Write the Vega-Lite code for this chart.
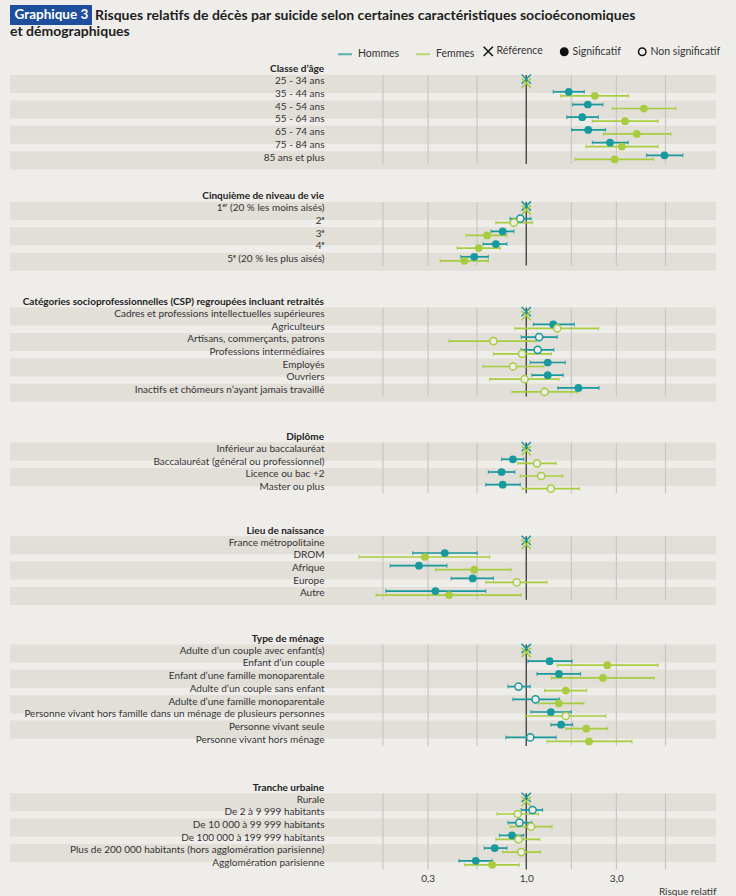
{
"$schema": "https://vega.github.io/schema/vega-lite/v6.json",
"background": "#efedea",
"padding": {"left": 10, "top": 5, "right": 20, "bottom": 0},
"title": {"text": ["\u200b\u00a0\u00a0\u00a0\u00a0\u00a0\u00a0\u00a0\u00a0\u00a0\u00a0\u00a0\u00a0\u00a0\u00a0\u00a0\u00a0\u00a0\u00a0\u00a0\u00a0\u00a0\u00a0\u00a0\u00a0\u00a0Risques relatifs de décès par suicide selon certaines caractéristiques socioéconomiques", "et démographiques"], "anchor": "start", "align": "left", "dx": 0, "fontSize": 14, "fontWeight": "bold", "color": "#1e1e1e", "lineHeight": 16, "offset": -34},
"config": {
 "font": "Lato",
 "view": {"stroke": null},
 "title": {"anchor": "end", "dx": -392, "fontSize": 10, "fontWeight": "bold", "color": "#222", "offset": -3},
 "axisY": {"domain": false, "ticks": false, "tickSize": 0, "labelPadding": 0, "labelFontSize": 10, "labelColor": "#333", "labelLimit": 400, "grid": false},
 "legend": {"labelFontSize": 10.5, "labelColor": "#333", "padding": 0}
},
"datasets": {
 "grid": [{"v": 0.174}, {"v": 0.302}, {"v": 0.549}, {"v": 1.734}, {"v": 3.005}, {"v": 5.47}],
 "d": [
  {"s":"age","cat":"25 - 34 ans","sexe":"Hommes","type":"Référence","rr":1},
  {"s":"age","cat":"25 - 34 ans","sexe":"Femmes","type":"Référence","rr":1},
  {"s":"age","cat":"35 - 44 ans","sexe":"Hommes","type":"Significatif","rr":1.68,"lo":1.39,"hi":2.03},
  {"s":"age","cat":"35 - 44 ans","sexe":"Femmes","type":"Significatif","rr":2.31,"lo":1.52,"hi":3.49},
  {"s":"age","cat":"45 - 54 ans","sexe":"Hommes","type":"Significatif","rr":2.12,"lo":1.76,"hi":2.55},
  {"s":"age","cat":"45 - 54 ans","sexe":"Femmes","type":"Significatif","rr":4.2,"lo":2.86,"hi":6.21},
  {"s":"age","cat":"55 - 64 ans","sexe":"Hommes","type":"Significatif","rr":1.98,"lo":1.64,"hi":2.41},
  {"s":"age","cat":"55 - 64 ans","sexe":"Femmes","type":"Significatif","rr":3.34,"lo":2.24,"hi":5.0},
  {"s":"age","cat":"65 - 74 ans","sexe":"Hommes","type":"Significatif","rr":2.13,"lo":1.74,"hi":2.63},
  {"s":"age","cat":"65 - 74 ans","sexe":"Femmes","type":"Significatif","rr":3.85,"lo":2.57,"hi":5.84},
  {"s":"age","cat":"75 - 84 ans","sexe":"Hommes","type":"Significatif","rr":2.78,"lo":2.24,"hi":3.47},
  {"s":"age","cat":"75 - 84 ans","sexe":"Femmes","type":"Significatif","rr":3.21,"lo":2.07,"hi":5.0},
  {"s":"age","cat":"85 ans et plus","sexe":"Hommes","type":"Significatif","rr":5.4,"lo":4.34,"hi":6.76},
  {"s":"age","cat":"85 ans et plus","sexe":"Femmes","type":"Significatif","rr":2.94,"lo":1.81,"hi":4.74},

  {"s":"q","cat":"1ᵉʳ (20 % les moins aisés)","sexe":"Hommes","type":"Référence","rr":1},
  {"s":"q","cat":"1ᵉʳ (20 % les moins aisés)","sexe":"Femmes","type":"Référence","rr":1},
  {"s":"q","cat":"2ᵉ","sexe":"Hommes","type":"Non significatif","rr":0.93,"lo":0.82,"hi":1.06},
  {"s":"q","cat":"2ᵉ","sexe":"Femmes","type":"Non significatif","rr":0.86,"lo":0.69,"hi":1.08},
  {"s":"q","cat":"3ᵉ","sexe":"Hommes","type":"Significatif","rr":0.75,"lo":0.65,"hi":0.86},
  {"s":"q","cat":"3ᵉ","sexe":"Femmes","type":"Significatif","rr":0.62,"lo":0.48,"hi":0.79},
  {"s":"q","cat":"4ᵉ","sexe":"Hommes","type":"Significatif","rr":0.69,"lo":0.59,"hi":0.79},
  {"s":"q","cat":"4ᵉ","sexe":"Femmes","type":"Significatif","rr":0.56,"lo":0.43,"hi":0.73},
  {"s":"q","cat":"5ᵉ (20 % les plus aisés)","sexe":"Hommes","type":"Significatif","rr":0.53,"lo":0.45,"hi":0.63},
  {"s":"q","cat":"5ᵉ (20 % les plus aisés)","sexe":"Femmes","type":"Significatif","rr":0.47,"lo":0.35,"hi":0.63},

  {"s":"csp","cat":"Cadres et professions intellectuelles supérieures","sexe":"Hommes","type":"Référence","rr":1},
  {"s":"csp","cat":"Cadres et professions intellectuelles supérieures","sexe":"Femmes","type":"Référence","rr":1},
  {"s":"csp","cat":"Agriculteurs","sexe":"Hommes","type":"Significatif","rr":1.39,"lo":1.09,"hi":1.8},
  {"s":"csp","cat":"Agriculteurs","sexe":"Femmes","type":"Non significatif","rr":1.46,"lo":0.87,"hi":2.42},
  {"s":"csp","cat":"Artisans, commerçants, patrons","sexe":"Hommes","type":"Non significatif","rr":1.17,"lo":0.94,"hi":1.46},
  {"s":"csp","cat":"Artisans, commerçants, patrons","sexe":"Femmes","type":"Non significatif","rr":0.67,"lo":0.39,"hi":1.13},
  {"s":"csp","cat":"Professions intermédiaires","sexe":"Hommes","type":"Non significatif","rr":1.15,"lo":0.94,"hi":1.4},
  {"s":"csp","cat":"Professions intermédiaires","sexe":"Femmes","type":"Non significatif","rr":0.95,"lo":0.67,"hi":1.36},
  {"s":"csp","cat":"Employés","sexe":"Hommes","type":"Significatif","rr":1.3,"lo":1.05,"hi":1.61},
  {"s":"csp","cat":"Employés","sexe":"Femmes","type":"Non significatif","rr":0.85,"lo":0.59,"hi":1.24},
  {"s":"csp","cat":"Ouvriers","sexe":"Hommes","type":"Significatif","rr":1.3,"lo":1.07,"hi":1.57},
  {"s":"csp","cat":"Ouvriers","sexe":"Femmes","type":"Non significatif","rr":0.98,"lo":0.64,"hi":1.49},
  {"s":"csp","cat":"Inactifs et chômeurs n’ayant jamais travaillé","sexe":"Hommes","type":"Significatif","rr":1.89,"lo":1.47,"hi":2.43},
  {"s":"csp","cat":"Inactifs et chômeurs n’ayant jamais travaillé","sexe":"Femmes","type":"Non significatif","rr":1.25,"lo":0.84,"hi":1.86},

  {"s":"dip","cat":"Inférieur au baccalauréat","sexe":"Hommes","type":"Référence","rr":1},
  {"s":"dip","cat":"Inférieur au baccalauréat","sexe":"Femmes","type":"Référence","rr":1},
  {"s":"dip","cat":"Baccalauréat (général ou professionnel)","sexe":"Hommes","type":"Significatif","rr":0.85,"lo":0.74,"hi":0.97},
  {"s":"dip","cat":"Baccalauréat (général ou professionnel)","sexe":"Femmes","type":"Non significatif","rr":1.14,"lo":0.9,"hi":1.44},
  {"s":"dip","cat":"Licence ou bac +2","sexe":"Hommes","type":"Significatif","rr":0.74,"lo":0.63,"hi":0.87},
  {"s":"dip","cat":"Licence ou bac +2","sexe":"Femmes","type":"Non significatif","rr":1.2,"lo":0.93,"hi":1.56},
  {"s":"dip","cat":"Master ou plus","sexe":"Hommes","type":"Significatif","rr":0.75,"lo":0.61,"hi":0.93},
  {"s":"dip","cat":"Master ou plus","sexe":"Femmes","type":"Non significatif","rr":1.35,"lo":0.95,"hi":1.91},

  {"s":"lieu","cat":"France métropolitaine","sexe":"Hommes","type":"Référence","rr":1},
  {"s":"lieu","cat":"France métropolitaine","sexe":"Femmes","type":"Référence","rr":1},
  {"s":"lieu","cat":"DROM","sexe":"Hommes","type":"Significatif","rr":0.37,"lo":0.25,"hi":0.55},
  {"s":"lieu","cat":"DROM","sexe":"Femmes","type":"Significatif","rr":0.29,"lo":0.13,"hi":0.64},
  {"s":"lieu","cat":"Afrique","sexe":"Hommes","type":"Significatif","rr":0.27,"lo":0.19,"hi":0.38},
  {"s":"lieu","cat":"Afrique","sexe":"Femmes","type":"Significatif","rr":0.53,"lo":0.33,"hi":0.83},
  {"s":"lieu","cat":"Europe","sexe":"Hommes","type":"Significatif","rr":0.52,"lo":0.4,"hi":0.67},
  {"s":"lieu","cat":"Europe","sexe":"Femmes","type":"Non significatif","rr":0.89,"lo":0.61,"hi":1.29},
  {"s":"lieu","cat":"Autre","sexe":"Hommes","type":"Significatif","rr":0.33,"lo":0.18,"hi":0.61},
  {"s":"lieu","cat":"Autre","sexe":"Femmes","type":"Significatif","rr":0.39,"lo":0.16,"hi":0.94},

  {"s":"men","cat":"Adulte d’un couple avec enfant(s)","sexe":"Hommes","type":"Référence","rr":1},
  {"s":"men","cat":"Adulte d’un couple avec enfant(s)","sexe":"Femmes","type":"Référence","rr":1},
  {"s":"men","cat":"Enfant d’un couple","sexe":"Hommes","type":"Significatif","rr":1.33,"lo":1.02,"hi":1.75},
  {"s":"men","cat":"Enfant d’un couple","sexe":"Femmes","type":"Significatif","rr":2.69,"lo":1.46,"hi":5.0},
  {"s":"men","cat":"Enfant d’une famille monoparentale","sexe":"Hommes","type":"Significatif","rr":1.49,"lo":1.14,"hi":1.94},
  {"s":"men","cat":"Enfant d’une famille monoparentale","sexe":"Femmes","type":"Significatif","rr":2.55,"lo":1.36,"hi":4.76},
  {"s":"men","cat":"Adulte d’un couple sans enfant","sexe":"Hommes","type":"Non significatif","rr":0.91,"lo":0.8,"hi":1.05},
  {"s":"men","cat":"Adulte d’un couple sans enfant","sexe":"Femmes","type":"Significatif","rr":1.62,"lo":1.25,"hi":2.09},
  {"s":"men","cat":"Adulte d’une famille monoparentale","sexe":"Hommes","type":"Non significatif","rr":1.12,"lo":0.85,"hi":1.5},
  {"s":"men","cat":"Adulte d’une famille monoparentale","sexe":"Femmes","type":"Significatif","rr":1.49,"lo":1.16,"hi":2.02},
  {"s":"men","cat":"Personne vivant hors famille dans un ménage de plusieurs personnes","sexe":"Hommes","type":"Significatif","rr":1.35,"lo":1.06,"hi":1.73},
  {"s":"men","cat":"Personne vivant hors famille dans un ménage de plusieurs personnes","sexe":"Femmes","type":"Non significatif","rr":1.62,"lo":0.99,"hi":2.64},
  {"s":"men","cat":"Personne vivant seule","sexe":"Hommes","type":"Significatif","rr":1.53,"lo":1.35,"hi":1.76},
  {"s":"men","cat":"Personne vivant seule","sexe":"Femmes","type":"Significatif","rr":2.08,"lo":1.62,"hi":2.7},
  {"s":"men","cat":"Personne vivant hors ménage","sexe":"Hommes","type":"Non significatif","rr":1.05,"lo":0.78,"hi":1.44},
  {"s":"men","cat":"Personne vivant hors ménage","sexe":"Femmes","type":"Significatif","rr":2.15,"lo":1.29,"hi":3.63},

  {"s":"urb","cat":"Rurale","sexe":"Hommes","type":"Référence","rr":1},
  {"s":"urb","cat":"Rurale","sexe":"Femmes","type":"Référence","rr":1},
  {"s":"urb","cat":"De 2 à 9 999 habitants","sexe":"Hommes","type":"Non significatif","rr":1.08,"lo":0.94,"hi":1.22},
  {"s":"urb","cat":"De 2 à 9 999 habitants","sexe":"Femmes","type":"Non significatif","rr":0.9,"lo":0.7,"hi":1.16},
  {"s":"urb","cat":"De 10 000 à 99 999 habitants","sexe":"Hommes","type":"Non significatif","rr":0.92,"lo":0.8,"hi":1.07},
  {"s":"urb","cat":"De 10 000 à 99 999 habitants","sexe":"Femmes","type":"Non significatif","rr":1.06,"lo":0.82,"hi":1.37},
  {"s":"urb","cat":"De 100 000 à 199 999 habitants","sexe":"Hommes","type":"Significatif","rr":0.84,"lo":0.72,"hi":0.97},
  {"s":"urb","cat":"De 100 000 à 199 999 habitants","sexe":"Femmes","type":"Non significatif","rr":0.91,"lo":0.69,"hi":1.18},
  {"s":"urb","cat":"Plus de 200 000 habitants (hors agglomération parisienne)","sexe":"Hommes","type":"Significatif","rr":0.68,"lo":0.6,"hi":0.79},
  {"s":"urb","cat":"Plus de 200 000 habitants (hors agglomération parisienne)","sexe":"Femmes","type":"Non significatif","rr":0.94,"lo":0.75,"hi":1.19},
  {"s":"urb","cat":"Agglomération parisienne","sexe":"Hommes","type":"Significatif","rr":0.54,"lo":0.44,"hi":0.66},
  {"s":"urb","cat":"Agglomération parisienne","sexe":"Femmes","type":"Significatif","rr":0.66,"lo":0.47,"hi":0.92}
 ]
},
"data": {"name": "d"},
"spacing": 20.9,
"vconcat": [
 {"title": "Classe d’âge", "width": 706, "height": 88.9,
  "layer": [
   {"transform": [{"filter": "datum.s==='age' && datum.sexe==='Hommes'"}, {"window": [{"op": "row_number", "as": "rn"}]}, {"filter": "datum.rn % 2 === 1"}],
    "mark": {"type": "rect", "color": "#e2ded8"},
    "encoding": {"y": {"field": "cat", "type": "nominal", "scale": {"type": "band", "domain": ["25 - 34 ans","35 - 44 ans","45 - 54 ans","55 - 64 ans","65 - 74 ans","75 - 84 ans","85 ans et plus"], "paddingInner": 0, "paddingOuter": 0}, "axis": {"title": null, "offset": -314, "zindex": 1}},
     "x": {"datum": 0.001836, "type": "quantitative", "scale": {"type": "log", "domain": [0.001836, 10.13], "nice": false}, "axis": null}, "x2": {"datum": 10.13}}},
   {"data": {"name": "grid"}, "mark": {"type": "rule", "color": "#c9c7c3", "strokeWidth": 1.2},
    "encoding": {"x": {"field": "v", "type": "quantitative", "scale": {"type": "log", "domain": [0.001836, 10.13], "nice": false}, "axis": null}}},
   {"data": {"values": [{}]}, "mark": {"type": "rule", "color": "#3c3c3c", "strokeWidth": 1.3},
    "encoding": {"x": {"datum": 1, "type": "quantitative", "scale": {"type": "log", "domain": [0.001836, 10.13], "nice": false}, "axis": null},
     "strokeDash": {"datum": "Graphique 3", "type": "nominal", "legend": {"title": null, "orient": "none", "legendX": 0, "legendY": -70, "fillColor": "#1d4f9c", "padding": 3, "symbolSize": 0, "symbolOpacity": 0, "symbolStrokeWidth": 0, "labelOffset": -12, "labelFontSize": 13.5, "labelFontWeight": "bold", "labelColor": "#ffffff"}}}},
   {"transform": [{"filter": "datum.s==='age' && datum.lo != null"}], "mark": {"type": "rule", "strokeWidth": 1.7},
    "encoding": {"y": {"field": "cat", "type": "nominal", "scale": {"type": "band", "domain": ["25 - 34 ans","35 - 44 ans","45 - 54 ans","55 - 64 ans","65 - 74 ans","75 - 84 ans","85 ans et plus"], "paddingInner": 0, "paddingOuter": 0}, "axis": {"title": null, "offset": -314, "zindex": 1}},
     "yOffset": {"field": "sexe", "type": "nominal", "scale": {"type": "point", "domain": ["Hommes","Femmes"], "range": [4.1, 8.1], "padding": 0}},
     "x": {"field": "lo", "type": "quantitative", "scale": {"type": "log", "domain": [0.001836, 10.13], "nice": false}, "axis": null}, "x2": {"field": "hi"},
     "color": {"field": "sexe", "type": "nominal", "scale": {"domain": ["Hommes","Femmes"], "range": ["#17999d","#a8cc3f"]}, "legend": {"title": null, "orient": "none", "legendX": 327, "legendY": -29, "direction": "horizontal", "symbolType": "stroke", "symbolStrokeWidth": 2, "symbolSize": 196, "labelOffset": 5, "columnPadding": 12}}}},
   {"transform": [{"filter": "datum.s==='age' && datum.lo != null"}, {"fold": ["lo","hi"], "as": ["k","ev"]}], "mark": {"type": "tick", "orient": "vertical", "thickness": 1.2, "size": 4},
    "encoding": {"y": {"field": "cat", "type": "nominal", "scale": {"type": "band", "domain": ["25 - 34 ans","35 - 44 ans","45 - 54 ans","55 - 64 ans","65 - 74 ans","75 - 84 ans","85 ans et plus"], "paddingInner": 0, "paddingOuter": 0}, "axis": {"title": null, "offset": -314, "zindex": 1}},
     "yOffset": {"field": "sexe", "type": "nominal", "scale": {"type": "point", "domain": ["Hommes","Femmes"], "range": [4.1, 8.1], "padding": 0}},
     "x": {"field": "ev", "type": "quantitative", "scale": {"type": "log", "domain": [0.001836, 10.13], "nice": false}, "axis": null},
     "color": {"field": "sexe", "type": "nominal", "scale": {"domain": ["Hommes","Femmes"], "range": ["#17999d","#a8cc3f"]}}}},
   {"transform": [{"filter": "datum.s==='age' && datum.type==='Référence'"}], "mark": {"type": "point", "shape": "M-1.25,-1.25L1.25,1.25M-1.25,1.25L1.25,-1.25", "size": 55, "strokeWidth": 1.5, "filled": false, "opacity": 1},
    "encoding": {"y": {"field": "cat", "type": "nominal", "scale": {"type": "band", "domain": ["25 - 34 ans","35 - 44 ans","45 - 54 ans","55 - 64 ans","65 - 74 ans","75 - 84 ans","85 ans et plus"], "paddingInner": 0, "paddingOuter": 0}, "axis": {"title": null, "offset": -314, "zindex": 1}},
     "yOffset": {"field": "sexe", "type": "nominal", "scale": {"type": "point", "domain": ["Hommes","Femmes"], "range": [4.1, 8.1], "padding": 0}},
     "x": {"field": "rr", "type": "quantitative", "scale": {"type": "log", "domain": [0.001836, 10.13], "nice": false}, "axis": null},
     "color": {"field": "sexe", "type": "nominal", "scale": {"domain": ["Hommes","Femmes"], "range": ["#17999d","#a8cc3f"]}}}},
   {"transform": [{"filter": "datum.s==='age' && datum.type==='Significatif'"}], "mark": {"type": "point", "shape": "circle", "size": 60, "filled": true, "opacity": 1},
    "encoding": {"y": {"field": "cat", "type": "nominal", "scale": {"type": "band", "domain": ["25 - 34 ans","35 - 44 ans","45 - 54 ans","55 - 64 ans","65 - 74 ans","75 - 84 ans","85 ans et plus"], "paddingInner": 0, "paddingOuter": 0}, "axis": {"title": null, "offset": -314, "zindex": 1}},
     "yOffset": {"field": "sexe", "type": "nominal", "scale": {"type": "point", "domain": ["Hommes","Femmes"], "range": [4.1, 8.1], "padding": 0}},
     "x": {"field": "rr", "type": "quantitative", "scale": {"type": "log", "domain": [0.001836, 10.13], "nice": false}, "axis": null},
     "color": {"field": "sexe", "type": "nominal", "scale": {"domain": ["Hommes","Femmes"], "range": ["#17999d","#a8cc3f"]}}}},
   {"data": {"values": [{"type": "Référence"}, {"type": "Significatif"}, {"type": "Non significatif"}]},
    "mark": {"type": "point", "strokeWidth": 1.5, "opacity": 0},
    "encoding": {"x": {"datum": 1, "type": "quantitative", "scale": {"type": "log", "domain": [0.001836, 10.13], "nice": false}, "axis": null},
     "shape": {"field": "type", "type": "nominal", "scale": {"domain": ["Référence","Significatif","Non significatif"], "range": ["M-1.25,-1.25L1.25,1.25M-1.25,1.25L1.25,-1.25","circle","circle"]}, "legend": {"title": null, "orient": "none", "legendX": 473, "legendY": -29, "direction": "horizontal", "labelOffset": 3, "columnPadding": 14, "symbolSize": 55, "symbolOpacity": 1, "symbolStrokeWidth": 1.5}},
     "fill": {"field": "type", "type": "nominal", "scale": {"domain": ["Référence","Significatif","Non significatif"], "range": ["transparent","#111111","transparent"]}, "legend": {"title": null, "orient": "none", "legendX": 473, "legendY": -29, "direction": "horizontal", "labelOffset": 3, "columnPadding": 14, "symbolSize": 55, "symbolOpacity": 1, "symbolStrokeWidth": 1.5}},
     "stroke": {"field": "type", "type": "nominal", "scale": {"domain": ["Référence","Significatif","Non significatif"], "range": ["#111111","#111111","#111111"]}, "legend": {"title": null, "orient": "none", "legendX": 473, "legendY": -29, "direction": "horizontal", "labelOffset": 3, "columnPadding": 14, "symbolSize": 55, "symbolOpacity": 1, "symbolStrokeWidth": 1.5}}}}
  ]},
 {"spacing": 25.7, "vconcat": [
  {"title": "Cinquième de niveau de vie", "width": 706, "height": 63.5,
   "layer": [
    {"transform": [{"filter": "datum.s==='q' && datum.sexe==='Hommes'"}, {"window": [{"op": "row_number", "as": "rn"}]}, {"filter": "datum.rn % 2 === 1"}],
     "mark": {"type": "rect", "color": "#e2ded8"},
     "encoding": {"y": {"field": "cat", "type": "nominal", "scale": {"type": "band", "domain": ["1ᵉʳ (20 % les moins aisés)","2ᵉ","3ᵉ","4ᵉ","5ᵉ (20 % les plus aisés)"], "paddingInner": 0, "paddingOuter": 0}, "axis": {"title": null, "offset": -314, "zindex": 1}},
      "x": {"datum": 0.001836, "type": "quantitative", "scale": {"type": "log", "domain": [0.001836, 10.13], "nice": false}, "axis": null}, "x2": {"datum": 10.13}}},
    {"data": {"name": "grid"}, "mark": {"type": "rule", "color": "#c9c7c3", "strokeWidth": 1.2},
     "encoding": {"x": {"field": "v", "type": "quantitative", "scale": {"type": "log", "domain": [0.001836, 10.13], "nice": false}, "axis": null}}},
    {"data": {"values": [{}]}, "mark": {"type": "rule", "color": "#3c3c3c", "strokeWidth": 1.3},
     "encoding": {"x": {"datum": 1, "type": "quantitative", "scale": {"type": "log", "domain": [0.001836, 10.13], "nice": false}, "axis": null}}},
    {"transform": [{"filter": "datum.s==='q' && datum.lo != null"}], "mark": {"type": "rule", "strokeWidth": 1.7},
     "encoding": {"y": {"field": "cat", "type": "nominal", "scale": {"type": "band", "domain": ["1ᵉʳ (20 % les moins aisés)","2ᵉ","3ᵉ","4ᵉ","5ᵉ (20 % les plus aisés)"], "paddingInner": 0, "paddingOuter": 0}, "axis": {"title": null, "offset": -314, "zindex": 1}},
      "yOffset": {"field": "sexe", "type": "nominal", "scale": {"type": "point", "domain": ["Hommes","Femmes"], "range": [4.1, 8.1], "padding": 0}},
      "x": {"field": "lo", "type": "quantitative", "scale": {"type": "log", "domain": [0.001836, 10.13], "nice": false}, "axis": null}, "x2": {"field": "hi"},
      "color": {"field": "sexe", "type": "nominal", "scale": {"domain": ["Hommes","Femmes"], "range": ["#17999d","#a8cc3f"]}}}},
    {"transform": [{"filter": "datum.s==='q' && datum.lo != null"}, {"fold": ["lo","hi"], "as": ["k","ev"]}], "mark": {"type": "tick", "orient": "vertical", "thickness": 1.2, "size": 4},
     "encoding": {"y": {"field": "cat", "type": "nominal", "scale": {"type": "band", "domain": ["1ᵉʳ (20 % les moins aisés)","2ᵉ","3ᵉ","4ᵉ","5ᵉ (20 % les plus aisés)"], "paddingInner": 0, "paddingOuter": 0}, "axis": {"title": null, "offset": -314, "zindex": 1}},
      "yOffset": {"field": "sexe", "type": "nominal", "scale": {"type": "point", "domain": ["Hommes","Femmes"], "range": [4.1, 8.1], "padding": 0}},
      "x": {"field": "ev", "type": "quantitative", "scale": {"type": "log", "domain": [0.001836, 10.13], "nice": false}, "axis": null},
      "color": {"field": "sexe", "type": "nominal", "scale": {"domain": ["Hommes","Femmes"], "range": ["#17999d","#a8cc3f"]}}}},
    {"transform": [{"filter": "datum.s==='q' && datum.type==='Référence'"}], "mark": {"type": "point", "shape": "M-1.25,-1.25L1.25,1.25M-1.25,1.25L1.25,-1.25", "size": 55, "strokeWidth": 1.5, "filled": false, "opacity": 1},
     "encoding": {"y": {"field": "cat", "type": "nominal", "scale": {"type": "band", "domain": ["1ᵉʳ (20 % les moins aisés)","2ᵉ","3ᵉ","4ᵉ","5ᵉ (20 % les plus aisés)"], "paddingInner": 0, "paddingOuter": 0}, "axis": {"title": null, "offset": -314, "zindex": 1}},
      "yOffset": {"field": "sexe", "type": "nominal", "scale": {"type": "point", "domain": ["Hommes","Femmes"], "range": [4.1, 8.1], "padding": 0}},
      "x": {"field": "rr", "type": "quantitative", "scale": {"type": "log", "domain": [0.001836, 10.13], "nice": false}, "axis": null},
      "color": {"field": "sexe", "type": "nominal", "scale": {"domain": ["Hommes","Femmes"], "range": ["#17999d","#a8cc3f"]}}}},
    {"transform": [{"filter": "datum.s==='q' && datum.type==='Significatif'"}], "mark": {"type": "point", "shape": "circle", "size": 60, "filled": true, "opacity": 1},
     "encoding": {"y": {"field": "cat", "type": "nominal", "scale": {"type": "band", "domain": ["1ᵉʳ (20 % les moins aisés)","2ᵉ","3ᵉ","4ᵉ","5ᵉ (20 % les plus aisés)"], "paddingInner": 0, "paddingOuter": 0}, "axis": {"title": null, "offset": -314, "zindex": 1}},
      "yOffset": {"field": "sexe", "type": "nominal", "scale": {"type": "point", "domain": ["Hommes","Femmes"], "range": [4.1, 8.1], "padding": 0}},
      "x": {"field": "rr", "type": "quantitative", "scale": {"type": "log", "domain": [0.001836, 10.13], "nice": false}, "axis": null},
      "color": {"field": "sexe", "type": "nominal", "scale": {"domain": ["Hommes","Femmes"], "range": ["#17999d","#a8cc3f"]}}}},
    {"transform": [{"filter": "datum.s==='q' && datum.type==='Non significatif'"}], "mark": {"type": "point", "shape": "circle", "size": 52, "filled": false, "fill": "#efedea", "strokeWidth": 1.5, "opacity": 1},
     "encoding": {"y": {"field": "cat", "type": "nominal", "scale": {"type": "band", "domain": ["1ᵉʳ (20 % les moins aisés)","2ᵉ","3ᵉ","4ᵉ","5ᵉ (20 % les plus aisés)"], "paddingInner": 0, "paddingOuter": 0}, "axis": {"title": null, "offset": -314, "zindex": 1}},
      "yOffset": {"field": "sexe", "type": "nominal", "scale": {"type": "point", "domain": ["Hommes","Femmes"], "range": [4.1, 8.1], "padding": 0}},
      "x": {"field": "rr", "type": "quantitative", "scale": {"type": "log", "domain": [0.001836, 10.13], "nice": false}, "axis": null},
      "color": {"field": "sexe", "type": "nominal", "scale": {"domain": ["Hommes","Femmes"], "range": ["#17999d","#a8cc3f"]}}}}
   ]},
  {"spacing": 28.9, "vconcat": [
   {"title": "Catégories socioprofessionnelles (CSP) regroupées incluant retraités", "width": 706, "height": 88.9,
    "layer": [
     {"transform": [{"filter": "datum.s==='csp' && datum.sexe==='Hommes'"}, {"window": [{"op": "row_number", "as": "rn"}]}, {"filter": "datum.rn % 2 === 1"}],
      "mark": {"type": "rect", "color": "#e2ded8"},
      "encoding": {"y": {"field": "cat", "type": "nominal", "scale": {"type": "band", "domain": ["Cadres et professions intellectuelles supérieures","Agriculteurs","Artisans, commerçants, patrons","Professions intermédiaires","Employés","Ouvriers","Inactifs et chômeurs n’ayant jamais travaillé"], "paddingInner": 0, "paddingOuter": 0}, "axis": {"title": null, "offset": -314, "zindex": 1}},
       "x": {"datum": 0.001836, "type": "quantitative", "scale": {"type": "log", "domain": [0.001836, 10.13], "nice": false}, "axis": null}, "x2": {"datum": 10.13}}},
     {"data": {"name": "grid"}, "mark": {"type": "rule", "color": "#c9c7c3", "strokeWidth": 1.2},
      "encoding": {"x": {"field": "v", "type": "quantitative", "scale": {"type": "log", "domain": [0.001836, 10.13], "nice": false}, "axis": null}}},
     {"data": {"values": [{}]}, "mark": {"type": "rule", "color": "#3c3c3c", "strokeWidth": 1.3},
      "encoding": {"x": {"datum": 1, "type": "quantitative", "scale": {"type": "log", "domain": [0.001836, 10.13], "nice": false}, "axis": null}}},
     {"transform": [{"filter": "datum.s==='csp' && datum.lo != null"}], "mark": {"type": "rule", "strokeWidth": 1.7},
      "encoding": {"y": {"field": "cat", "type": "nominal", "scale": {"type": "band", "domain": ["Cadres et professions intellectuelles supérieures","Agriculteurs","Artisans, commerçants, patrons","Professions intermédiaires","Employés","Ouvriers","Inactifs et chômeurs n’ayant jamais travaillé"], "paddingInner": 0, "paddingOuter": 0}, "axis": {"title": null, "offset": -314, "zindex": 1}},
       "yOffset": {"field": "sexe", "type": "nominal", "scale": {"type": "point", "domain": ["Hommes","Femmes"], "range": [4.1, 8.1], "padding": 0}},
       "x": {"field": "lo", "type": "quantitative", "scale": {"type": "log", "domain": [0.001836, 10.13], "nice": false}, "axis": null}, "x2": {"field": "hi"},
       "color": {"field": "sexe", "type": "nominal", "scale": {"domain": ["Hommes","Femmes"], "range": ["#17999d","#a8cc3f"]}}}},
     {"transform": [{"filter": "datum.s==='csp' && datum.lo != null"}, {"fold": ["lo","hi"], "as": ["k","ev"]}], "mark": {"type": "tick", "orient": "vertical", "thickness": 1.2, "size": 4},
      "encoding": {"y": {"field": "cat", "type": "nominal", "scale": {"type": "band", "domain": ["Cadres et professions intellectuelles supérieures","Agriculteurs","Artisans, commerçants, patrons","Professions intermédiaires","Employés","Ouvriers","Inactifs et chômeurs n’ayant jamais travaillé"], "paddingInner": 0, "paddingOuter": 0}, "axis": {"title": null, "offset": -314, "zindex": 1}},
       "yOffset": {"field": "sexe", "type": "nominal", "scale": {"type": "point", "domain": ["Hommes","Femmes"], "range": [4.1, 8.1], "padding": 0}},
       "x": {"field": "ev", "type": "quantitative", "scale": {"type": "log", "domain": [0.001836, 10.13], "nice": false}, "axis": null},
       "color": {"field": "sexe", "type": "nominal", "scale": {"domain": ["Hommes","Femmes"], "range": ["#17999d","#a8cc3f"]}}}},
     {"transform": [{"filter": "datum.s==='csp' && datum.type==='Référence'"}], "mark": {"type": "point", "shape": "M-1.25,-1.25L1.25,1.25M-1.25,1.25L1.25,-1.25", "size": 55, "strokeWidth": 1.5, "filled": false, "opacity": 1},
      "encoding": {"y": {"field": "cat", "type": "nominal", "scale": {"type": "band", "domain": ["Cadres et professions intellectuelles supérieures","Agriculteurs","Artisans, commerçants, patrons","Professions intermédiaires","Employés","Ouvriers","Inactifs et chômeurs n’ayant jamais travaillé"], "paddingInner": 0, "paddingOuter": 0}, "axis": {"title": null, "offset": -314, "zindex": 1}},
       "yOffset": {"field": "sexe", "type": "nominal", "scale": {"type": "point", "domain": ["Hommes","Femmes"], "range": [4.1, 8.1], "padding": 0}},
       "x": {"field": "rr", "type": "quantitative", "scale": {"type": "log", "domain": [0.001836, 10.13], "nice": false}, "axis": null},
       "color": {"field": "sexe", "type": "nominal", "scale": {"domain": ["Hommes","Femmes"], "range": ["#17999d","#a8cc3f"]}}}},
     {"transform": [{"filter": "datum.s==='csp' && datum.type==='Significatif'"}], "mark": {"type": "point", "shape": "circle", "size": 60, "filled": true, "opacity": 1},
      "encoding": {"y": {"field": "cat", "type": "nominal", "scale": {"type": "band", "domain": ["Cadres et professions intellectuelles supérieures","Agriculteurs","Artisans, commerçants, patrons","Professions intermédiaires","Employés","Ouvriers","Inactifs et chômeurs n’ayant jamais travaillé"], "paddingInner": 0, "paddingOuter": 0}, "axis": {"title": null, "offset": -314, "zindex": 1}},
       "yOffset": {"field": "sexe", "type": "nominal", "scale": {"type": "point", "domain": ["Hommes","Femmes"], "range": [4.1, 8.1], "padding": 0}},
       "x": {"field": "rr", "type": "quantitative", "scale": {"type": "log", "domain": [0.001836, 10.13], "nice": false}, "axis": null},
       "color": {"field": "sexe", "type": "nominal", "scale": {"domain": ["Hommes","Femmes"], "range": ["#17999d","#a8cc3f"]}}}},
     {"transform": [{"filter": "datum.s==='csp' && datum.type==='Non significatif'"}], "mark": {"type": "point", "shape": "circle", "size": 52, "filled": false, "fill": "#efedea", "strokeWidth": 1.5, "opacity": 1},
      "encoding": {"y": {"field": "cat", "type": "nominal", "scale": {"type": "band", "domain": ["Cadres et professions intellectuelles supérieures","Agriculteurs","Artisans, commerçants, patrons","Professions intermédiaires","Employés","Ouvriers","Inactifs et chômeurs n’ayant jamais travaillé"], "paddingInner": 0, "paddingOuter": 0}, "axis": {"title": null, "offset": -314, "zindex": 1}},
       "yOffset": {"field": "sexe", "type": "nominal", "scale": {"type": "point", "domain": ["Hommes","Femmes"], "range": [4.1, 8.1], "padding": 0}},
       "x": {"field": "rr", "type": "quantitative", "scale": {"type": "log", "domain": [0.001836, 10.13], "nice": false}, "axis": null},
       "color": {"field": "sexe", "type": "nominal", "scale": {"domain": ["Hommes","Femmes"], "range": ["#17999d","#a8cc3f"]}}}}
    ]},
   {"spacing": 29.7, "vconcat": [
    {"title": "Diplôme", "width": 706, "height": 50.8,
     "layer": [
      {"transform": [{"filter": "datum.s==='dip' && datum.sexe==='Hommes'"}, {"window": [{"op": "row_number", "as": "rn"}]}, {"filter": "datum.rn % 2 === 1"}],
       "mark": {"type": "rect", "color": "#e2ded8"},
       "encoding": {"y": {"field": "cat", "type": "nominal", "scale": {"type": "band", "domain": ["Inférieur au baccalauréat","Baccalauréat (général ou professionnel)","Licence ou bac +2","Master ou plus"], "paddingInner": 0, "paddingOuter": 0}, "axis": {"title": null, "offset": -314, "zindex": 1}},
        "x": {"datum": 0.001836, "type": "quantitative", "scale": {"type": "log", "domain": [0.001836, 10.13], "nice": false}, "axis": null}, "x2": {"datum": 10.13}}},
      {"data": {"name": "grid"}, "mark": {"type": "rule", "color": "#c9c7c3", "strokeWidth": 1.2},
       "encoding": {"x": {"field": "v", "type": "quantitative", "scale": {"type": "log", "domain": [0.001836, 10.13], "nice": false}, "axis": null}}},
      {"data": {"values": [{}]}, "mark": {"type": "rule", "color": "#3c3c3c", "strokeWidth": 1.3},
       "encoding": {"x": {"datum": 1, "type": "quantitative", "scale": {"type": "log", "domain": [0.001836, 10.13], "nice": false}, "axis": null}}},
      {"transform": [{"filter": "datum.s==='dip' && datum.lo != null"}], "mark": {"type": "rule", "strokeWidth": 1.7},
       "encoding": {"y": {"field": "cat", "type": "nominal", "scale": {"type": "band", "domain": ["Inférieur au baccalauréat","Baccalauréat (général ou professionnel)","Licence ou bac +2","Master ou plus"], "paddingInner": 0, "paddingOuter": 0}, "axis": {"title": null, "offset": -314, "zindex": 1}},
        "yOffset": {"field": "sexe", "type": "nominal", "scale": {"type": "point", "domain": ["Hommes","Femmes"], "range": [4.1, 8.1], "padding": 0}},
        "x": {"field": "lo", "type": "quantitative", "scale": {"type": "log", "domain": [0.001836, 10.13], "nice": false}, "axis": null}, "x2": {"field": "hi"},
        "color": {"field": "sexe", "type": "nominal", "scale": {"domain": ["Hommes","Femmes"], "range": ["#17999d","#a8cc3f"]}}}},
      {"transform": [{"filter": "datum.s==='dip' && datum.lo != null"}, {"fold": ["lo","hi"], "as": ["k","ev"]}], "mark": {"type": "tick", "orient": "vertical", "thickness": 1.2, "size": 4},
       "encoding": {"y": {"field": "cat", "type": "nominal", "scale": {"type": "band", "domain": ["Inférieur au baccalauréat","Baccalauréat (général ou professionnel)","Licence ou bac +2","Master ou plus"], "paddingInner": 0, "paddingOuter": 0}, "axis": {"title": null, "offset": -314, "zindex": 1}},
        "yOffset": {"field": "sexe", "type": "nominal", "scale": {"type": "point", "domain": ["Hommes","Femmes"], "range": [4.1, 8.1], "padding": 0}},
        "x": {"field": "ev", "type": "quantitative", "scale": {"type": "log", "domain": [0.001836, 10.13], "nice": false}, "axis": null},
        "color": {"field": "sexe", "type": "nominal", "scale": {"domain": ["Hommes","Femmes"], "range": ["#17999d","#a8cc3f"]}}}},
      {"transform": [{"filter": "datum.s==='dip' && datum.type==='Référence'"}], "mark": {"type": "point", "shape": "M-1.25,-1.25L1.25,1.25M-1.25,1.25L1.25,-1.25", "size": 55, "strokeWidth": 1.5, "filled": false, "opacity": 1},
       "encoding": {"y": {"field": "cat", "type": "nominal", "scale": {"type": "band", "domain": ["Inférieur au baccalauréat","Baccalauréat (général ou professionnel)","Licence ou bac +2","Master ou plus"], "paddingInner": 0, "paddingOuter": 0}, "axis": {"title": null, "offset": -314, "zindex": 1}},
        "yOffset": {"field": "sexe", "type": "nominal", "scale": {"type": "point", "domain": ["Hommes","Femmes"], "range": [4.1, 8.1], "padding": 0}},
        "x": {"field": "rr", "type": "quantitative", "scale": {"type": "log", "domain": [0.001836, 10.13], "nice": false}, "axis": null},
        "color": {"field": "sexe", "type": "nominal", "scale": {"domain": ["Hommes","Femmes"], "range": ["#17999d","#a8cc3f"]}}}},
      {"transform": [{"filter": "datum.s==='dip' && datum.type==='Significatif'"}], "mark": {"type": "point", "shape": "circle", "size": 60, "filled": true, "opacity": 1},
       "encoding": {"y": {"field": "cat", "type": "nominal", "scale": {"type": "band", "domain": ["Inférieur au baccalauréat","Baccalauréat (général ou professionnel)","Licence ou bac +2","Master ou plus"], "paddingInner": 0, "paddingOuter": 0}, "axis": {"title": null, "offset": -314, "zindex": 1}},
        "yOffset": {"field": "sexe", "type": "nominal", "scale": {"type": "point", "domain": ["Hommes","Femmes"], "range": [4.1, 8.1], "padding": 0}},
        "x": {"field": "rr", "type": "quantitative", "scale": {"type": "log", "domain": [0.001836, 10.13], "nice": false}, "axis": null},
        "color": {"field": "sexe", "type": "nominal", "scale": {"domain": ["Hommes","Femmes"], "range": ["#17999d","#a8cc3f"]}}}},
      {"transform": [{"filter": "datum.s==='dip' && datum.type==='Non significatif'"}], "mark": {"type": "point", "shape": "circle", "size": 52, "filled": false, "fill": "#efedea", "strokeWidth": 1.5, "opacity": 1},
       "encoding": {"y": {"field": "cat", "type": "nominal", "scale": {"type": "band", "domain": ["Inférieur au baccalauréat","Baccalauréat (général ou professionnel)","Licence ou bac +2","Master ou plus"], "paddingInner": 0, "paddingOuter": 0}, "axis": {"title": null, "offset": -314, "zindex": 1}},
        "yOffset": {"field": "sexe", "type": "nominal", "scale": {"type": "point", "domain": ["Hommes","Femmes"], "range": [4.1, 8.1], "padding": 0}},
        "x": {"field": "rr", "type": "quantitative", "scale": {"type": "log", "domain": [0.001836, 10.13], "nice": false}, "axis": null},
        "color": {"field": "sexe", "type": "nominal", "scale": {"domain": ["Hommes","Femmes"], "range": ["#17999d","#a8cc3f"]}}}}
     ]},
    {"spacing": 28.2, "vconcat": [
     {"title": "Lieu de naissance", "width": 706, "height": 63.5,
      "layer": [
       {"transform": [{"filter": "datum.s==='lieu' && datum.sexe==='Hommes'"}, {"window": [{"op": "row_number", "as": "rn"}]}, {"filter": "datum.rn % 2 === 1"}],
        "mark": {"type": "rect", "color": "#e2ded8"},
        "encoding": {"y": {"field": "cat", "type": "nominal", "scale": {"type": "band", "domain": ["France métropolitaine","DROM","Afrique","Europe","Autre"], "paddingInner": 0, "paddingOuter": 0}, "axis": {"title": null, "offset": -314, "zindex": 1}},
         "x": {"datum": 0.001836, "type": "quantitative", "scale": {"type": "log", "domain": [0.001836, 10.13], "nice": false}, "axis": null}, "x2": {"datum": 10.13}}},
       {"data": {"name": "grid"}, "mark": {"type": "rule", "color": "#c9c7c3", "strokeWidth": 1.2},
        "encoding": {"x": {"field": "v", "type": "quantitative", "scale": {"type": "log", "domain": [0.001836, 10.13], "nice": false}, "axis": null}}},
       {"data": {"values": [{}]}, "mark": {"type": "rule", "color": "#3c3c3c", "strokeWidth": 1.3},
        "encoding": {"x": {"datum": 1, "type": "quantitative", "scale": {"type": "log", "domain": [0.001836, 10.13], "nice": false}, "axis": null}}},
       {"transform": [{"filter": "datum.s==='lieu' && datum.lo != null"}], "mark": {"type": "rule", "strokeWidth": 1.7},
        "encoding": {"y": {"field": "cat", "type": "nominal", "scale": {"type": "band", "domain": ["France métropolitaine","DROM","Afrique","Europe","Autre"], "paddingInner": 0, "paddingOuter": 0}, "axis": {"title": null, "offset": -314, "zindex": 1}},
         "yOffset": {"field": "sexe", "type": "nominal", "scale": {"type": "point", "domain": ["Hommes","Femmes"], "range": [4.1, 8.1], "padding": 0}},
         "x": {"field": "lo", "type": "quantitative", "scale": {"type": "log", "domain": [0.001836, 10.13], "nice": false}, "axis": null}, "x2": {"field": "hi"},
         "color": {"field": "sexe", "type": "nominal", "scale": {"domain": ["Hommes","Femmes"], "range": ["#17999d","#a8cc3f"]}}}},
       {"transform": [{"filter": "datum.s==='lieu' && datum.lo != null"}, {"fold": ["lo","hi"], "as": ["k","ev"]}], "mark": {"type": "tick", "orient": "vertical", "thickness": 1.2, "size": 4},
        "encoding": {"y": {"field": "cat", "type": "nominal", "scale": {"type": "band", "domain": ["France métropolitaine","DROM","Afrique","Europe","Autre"], "paddingInner": 0, "paddingOuter": 0}, "axis": {"title": null, "offset": -314, "zindex": 1}},
         "yOffset": {"field": "sexe", "type": "nominal", "scale": {"type": "point", "domain": ["Hommes","Femmes"], "range": [4.1, 8.1], "padding": 0}},
         "x": {"field": "ev", "type": "quantitative", "scale": {"type": "log", "domain": [0.001836, 10.13], "nice": false}, "axis": null},
         "color": {"field": "sexe", "type": "nominal", "scale": {"domain": ["Hommes","Femmes"], "range": ["#17999d","#a8cc3f"]}}}},
       {"transform": [{"filter": "datum.s==='lieu' && datum.type==='Référence'"}], "mark": {"type": "point", "shape": "M-1.25,-1.25L1.25,1.25M-1.25,1.25L1.25,-1.25", "size": 55, "strokeWidth": 1.5, "filled": false, "opacity": 1},
        "encoding": {"y": {"field": "cat", "type": "nominal", "scale": {"type": "band", "domain": ["France métropolitaine","DROM","Afrique","Europe","Autre"], "paddingInner": 0, "paddingOuter": 0}, "axis": {"title": null, "offset": -314, "zindex": 1}},
         "yOffset": {"field": "sexe", "type": "nominal", "scale": {"type": "point", "domain": ["Hommes","Femmes"], "range": [4.1, 8.1], "padding": 0}},
         "x": {"field": "rr", "type": "quantitative", "scale": {"type": "log", "domain": [0.001836, 10.13], "nice": false}, "axis": null},
         "color": {"field": "sexe", "type": "nominal", "scale": {"domain": ["Hommes","Femmes"], "range": ["#17999d","#a8cc3f"]}}}},
       {"transform": [{"filter": "datum.s==='lieu' && datum.type==='Significatif'"}], "mark": {"type": "point", "shape": "circle", "size": 60, "filled": true, "opacity": 1},
        "encoding": {"y": {"field": "cat", "type": "nominal", "scale": {"type": "band", "domain": ["France métropolitaine","DROM","Afrique","Europe","Autre"], "paddingInner": 0, "paddingOuter": 0}, "axis": {"title": null, "offset": -314, "zindex": 1}},
         "yOffset": {"field": "sexe", "type": "nominal", "scale": {"type": "point", "domain": ["Hommes","Femmes"], "range": [4.1, 8.1], "padding": 0}},
         "x": {"field": "rr", "type": "quantitative", "scale": {"type": "log", "domain": [0.001836, 10.13], "nice": false}, "axis": null},
         "color": {"field": "sexe", "type": "nominal", "scale": {"domain": ["Hommes","Femmes"], "range": ["#17999d","#a8cc3f"]}}}},
       {"transform": [{"filter": "datum.s==='lieu' && datum.type==='Non significatif'"}], "mark": {"type": "point", "shape": "circle", "size": 52, "filled": false, "fill": "#efedea", "strokeWidth": 1.5, "opacity": 1},
        "encoding": {"y": {"field": "cat", "type": "nominal", "scale": {"type": "band", "domain": ["France métropolitaine","DROM","Afrique","Europe","Autre"], "paddingInner": 0, "paddingOuter": 0}, "axis": {"title": null, "offset": -314, "zindex": 1}},
         "yOffset": {"field": "sexe", "type": "nominal", "scale": {"type": "point", "domain": ["Hommes","Femmes"], "range": [4.1, 8.1], "padding": 0}},
         "x": {"field": "rr", "type": "quantitative", "scale": {"type": "log", "domain": [0.001836, 10.13], "nice": false}, "axis": null},
         "color": {"field": "sexe", "type": "nominal", "scale": {"domain": ["Hommes","Femmes"], "range": ["#17999d","#a8cc3f"]}}}}
      ]},
     {"spacing": 34.8, "vconcat": [
      {"title": "Type de ménage", "width": 706, "height": 101.6,
       "layer": [
        {"transform": [{"filter": "datum.s==='men' && datum.sexe==='Hommes'"}, {"window": [{"op": "row_number", "as": "rn"}]}, {"filter": "datum.rn % 2 === 1"}],
         "mark": {"type": "rect", "color": "#e2ded8"},
         "encoding": {"y": {"field": "cat", "type": "nominal", "scale": {"type": "band", "domain": ["Adulte d’un couple avec enfant(s)","Enfant d’un couple","Enfant d’une famille monoparentale","Adulte d’un couple sans enfant","Adulte d’une famille monoparentale","Personne vivant hors famille dans un ménage de plusieurs personnes","Personne vivant seule","Personne vivant hors ménage"], "paddingInner": 0, "paddingOuter": 0}, "axis": {"title": null, "offset": -314, "zindex": 1}},
          "x": {"datum": 0.001836, "type": "quantitative", "scale": {"type": "log", "domain": [0.001836, 10.13], "nice": false}, "axis": null}, "x2": {"datum": 10.13}}},
        {"data": {"name": "grid"}, "mark": {"type": "rule", "color": "#c9c7c3", "strokeWidth": 1.2},
         "encoding": {"x": {"field": "v", "type": "quantitative", "scale": {"type": "log", "domain": [0.001836, 10.13], "nice": false}, "axis": null}}},
        {"data": {"values": [{}]}, "mark": {"type": "rule", "color": "#3c3c3c", "strokeWidth": 1.3},
         "encoding": {"x": {"datum": 1, "type": "quantitative", "scale": {"type": "log", "domain": [0.001836, 10.13], "nice": false}, "axis": null}}},
        {"transform": [{"filter": "datum.s==='men' && datum.lo != null"}], "mark": {"type": "rule", "strokeWidth": 1.7},
         "encoding": {"y": {"field": "cat", "type": "nominal", "scale": {"type": "band", "domain": ["Adulte d’un couple avec enfant(s)","Enfant d’un couple","Enfant d’une famille monoparentale","Adulte d’un couple sans enfant","Adulte d’une famille monoparentale","Personne vivant hors famille dans un ménage de plusieurs personnes","Personne vivant seule","Personne vivant hors ménage"], "paddingInner": 0, "paddingOuter": 0}, "axis": {"title": null, "offset": -314, "zindex": 1}},
          "yOffset": {"field": "sexe", "type": "nominal", "scale": {"type": "point", "domain": ["Hommes","Femmes"], "range": [4.1, 8.1], "padding": 0}},
          "x": {"field": "lo", "type": "quantitative", "scale": {"type": "log", "domain": [0.001836, 10.13], "nice": false}, "axis": null}, "x2": {"field": "hi"},
          "color": {"field": "sexe", "type": "nominal", "scale": {"domain": ["Hommes","Femmes"], "range": ["#17999d","#a8cc3f"]}}}},
        {"transform": [{"filter": "datum.s==='men' && datum.lo != null"}, {"fold": ["lo","hi"], "as": ["k","ev"]}], "mark": {"type": "tick", "orient": "vertical", "thickness": 1.2, "size": 4},
         "encoding": {"y": {"field": "cat", "type": "nominal", "scale": {"type": "band", "domain": ["Adulte d’un couple avec enfant(s)","Enfant d’un couple","Enfant d’une famille monoparentale","Adulte d’un couple sans enfant","Adulte d’une famille monoparentale","Personne vivant hors famille dans un ménage de plusieurs personnes","Personne vivant seule","Personne vivant hors ménage"], "paddingInner": 0, "paddingOuter": 0}, "axis": {"title": null, "offset": -314, "zindex": 1}},
          "yOffset": {"field": "sexe", "type": "nominal", "scale": {"type": "point", "domain": ["Hommes","Femmes"], "range": [4.1, 8.1], "padding": 0}},
          "x": {"field": "ev", "type": "quantitative", "scale": {"type": "log", "domain": [0.001836, 10.13], "nice": false}, "axis": null},
          "color": {"field": "sexe", "type": "nominal", "scale": {"domain": ["Hommes","Femmes"], "range": ["#17999d","#a8cc3f"]}}}},
        {"transform": [{"filter": "datum.s==='men' && datum.type==='Référence'"}], "mark": {"type": "point", "shape": "M-1.25,-1.25L1.25,1.25M-1.25,1.25L1.25,-1.25", "size": 55, "strokeWidth": 1.5, "filled": false, "opacity": 1},
         "encoding": {"y": {"field": "cat", "type": "nominal", "scale": {"type": "band", "domain": ["Adulte d’un couple avec enfant(s)","Enfant d’un couple","Enfant d’une famille monoparentale","Adulte d’un couple sans enfant","Adulte d’une famille monoparentale","Personne vivant hors famille dans un ménage de plusieurs personnes","Personne vivant seule","Personne vivant hors ménage"], "paddingInner": 0, "paddingOuter": 0}, "axis": {"title": null, "offset": -314, "zindex": 1}},
          "yOffset": {"field": "sexe", "type": "nominal", "scale": {"type": "point", "domain": ["Hommes","Femmes"], "range": [4.1, 8.1], "padding": 0}},
          "x": {"field": "rr", "type": "quantitative", "scale": {"type": "log", "domain": [0.001836, 10.13], "nice": false}, "axis": null},
          "color": {"field": "sexe", "type": "nominal", "scale": {"domain": ["Hommes","Femmes"], "range": ["#17999d","#a8cc3f"]}}}},
        {"transform": [{"filter": "datum.s==='men' && datum.type==='Significatif'"}], "mark": {"type": "point", "shape": "circle", "size": 60, "filled": true, "opacity": 1},
         "encoding": {"y": {"field": "cat", "type": "nominal", "scale": {"type": "band", "domain": ["Adulte d’un couple avec enfant(s)","Enfant d’un couple","Enfant d’une famille monoparentale","Adulte d’un couple sans enfant","Adulte d’une famille monoparentale","Personne vivant hors famille dans un ménage de plusieurs personnes","Personne vivant seule","Personne vivant hors ménage"], "paddingInner": 0, "paddingOuter": 0}, "axis": {"title": null, "offset": -314, "zindex": 1}},
          "yOffset": {"field": "sexe", "type": "nominal", "scale": {"type": "point", "domain": ["Hommes","Femmes"], "range": [4.1, 8.1], "padding": 0}},
          "x": {"field": "rr", "type": "quantitative", "scale": {"type": "log", "domain": [0.001836, 10.13], "nice": false}, "axis": null},
          "color": {"field": "sexe", "type": "nominal", "scale": {"domain": ["Hommes","Femmes"], "range": ["#17999d","#a8cc3f"]}}}},
        {"transform": [{"filter": "datum.s==='men' && datum.type==='Non significatif'"}], "mark": {"type": "point", "shape": "circle", "size": 52, "filled": false, "fill": "#efedea", "strokeWidth": 1.5, "opacity": 1},
         "encoding": {"y": {"field": "cat", "type": "nominal", "scale": {"type": "band", "domain": ["Adulte d’un couple avec enfant(s)","Enfant d’un couple","Enfant d’une famille monoparentale","Adulte d’un couple sans enfant","Adulte d’une famille monoparentale","Personne vivant hors famille dans un ménage de plusieurs personnes","Personne vivant seule","Personne vivant hors ménage"], "paddingInner": 0, "paddingOuter": 0}, "axis": {"title": null, "offset": -314, "zindex": 1}},
          "yOffset": {"field": "sexe", "type": "nominal", "scale": {"type": "point", "domain": ["Hommes","Femmes"], "range": [4.1, 8.1], "padding": 0}},
          "x": {"field": "rr", "type": "quantitative", "scale": {"type": "log", "domain": [0.001836, 10.13], "nice": false}, "axis": null},
          "color": {"field": "sexe", "type": "nominal", "scale": {"domain": ["Hommes","Femmes"], "range": ["#17999d","#a8cc3f"]}}}}
       ]},
      {"title": "Tranche urbaine", "width": 706, "height": 76.2,
       "layer": [
        {"transform": [{"filter": "datum.s==='urb' && datum.sexe==='Hommes'"}, {"window": [{"op": "row_number", "as": "rn"}]}, {"filter": "datum.rn % 2 === 1"}],
         "mark": {"type": "rect", "color": "#e2ded8"},
         "encoding": {"y": {"field": "cat", "type": "nominal", "scale": {"type": "band", "domain": ["Rurale","De 2 à 9 999 habitants","De 10 000 à 99 999 habitants","De 100 000 à 199 999 habitants","Plus de 200 000 habitants (hors agglomération parisienne)","Agglomération parisienne"], "paddingInner": 0, "paddingOuter": 0}, "axis": {"title": null, "offset": -314, "zindex": 1}},
          "x": {"datum": 0.001836, "type": "quantitative", "scale": {"type": "log", "domain": [0.001836, 10.13], "nice": false},
           "axis": {"title": "Risque relatif", "values": [0.3, 1, 3], "labelExpr": "replace(format(datum.value, '.1f'), '.', ',')", "grid": false, "domain": false, "ticks": false, "labelPadding": 4, "labelFontSize": 10, "labelColor": "#333", "titleFontSize": 10, "titleFontWeight": "normal", "titleColor": "#333", "titleAnchor": "end", "titlePadding": 3, "labelFlush": false}},
          "x2": {"datum": 10.13}}},
        {"data": {"name": "grid"}, "mark": {"type": "rule", "color": "#c9c7c3", "strokeWidth": 1.2},
         "encoding": {"x": {"field": "v", "type": "quantitative", "scale": {"type": "log", "domain": [0.001836, 10.13], "nice": false}}}},
        {"data": {"values": [{}]}, "mark": {"type": "rule", "color": "#3c3c3c", "strokeWidth": 1.3},
         "encoding": {"x": {"datum": 1, "type": "quantitative", "scale": {"type": "log", "domain": [0.001836, 10.13], "nice": false}}}},
        {"transform": [{"filter": "datum.s==='urb' && datum.lo != null"}], "mark": {"type": "rule", "strokeWidth": 1.7},
         "encoding": {"y": {"field": "cat", "type": "nominal", "scale": {"type": "band", "domain": ["Rurale","De 2 à 9 999 habitants","De 10 000 à 99 999 habitants","De 100 000 à 199 999 habitants","Plus de 200 000 habitants (hors agglomération parisienne)","Agglomération parisienne"], "paddingInner": 0, "paddingOuter": 0}, "axis": {"title": null, "offset": -314, "zindex": 1}},
          "yOffset": {"field": "sexe", "type": "nominal", "scale": {"type": "point", "domain": ["Hommes","Femmes"], "range": [4.1, 8.1], "padding": 0}},
          "x": {"field": "lo", "type": "quantitative", "scale": {"type": "log", "domain": [0.001836, 10.13], "nice": false}}, "x2": {"field": "hi"},
          "color": {"field": "sexe", "type": "nominal", "scale": {"domain": ["Hommes","Femmes"], "range": ["#17999d","#a8cc3f"]}}}},
        {"transform": [{"filter": "datum.s==='urb' && datum.lo != null"}, {"fold": ["lo","hi"], "as": ["k","ev"]}], "mark": {"type": "tick", "orient": "vertical", "thickness": 1.2, "size": 4},
         "encoding": {"y": {"field": "cat", "type": "nominal", "scale": {"type": "band", "domain": ["Rurale","De 2 à 9 999 habitants","De 10 000 à 99 999 habitants","De 100 000 à 199 999 habitants","Plus de 200 000 habitants (hors agglomération parisienne)","Agglomération parisienne"], "paddingInner": 0, "paddingOuter": 0}, "axis": {"title": null, "offset": -314, "zindex": 1}},
          "yOffset": {"field": "sexe", "type": "nominal", "scale": {"type": "point", "domain": ["Hommes","Femmes"], "range": [4.1, 8.1], "padding": 0}},
          "x": {"field": "ev", "type": "quantitative", "scale": {"type": "log", "domain": [0.001836, 10.13], "nice": false}},
          "color": {"field": "sexe", "type": "nominal", "scale": {"domain": ["Hommes","Femmes"], "range": ["#17999d","#a8cc3f"]}}}},
        {"transform": [{"filter": "datum.s==='urb' && datum.type==='Référence'"}], "mark": {"type": "point", "shape": "M-1.25,-1.25L1.25,1.25M-1.25,1.25L1.25,-1.25", "size": 55, "strokeWidth": 1.5, "filled": false, "opacity": 1},
         "encoding": {"y": {"field": "cat", "type": "nominal", "scale": {"type": "band", "domain": ["Rurale","De 2 à 9 999 habitants","De 10 000 à 99 999 habitants","De 100 000 à 199 999 habitants","Plus de 200 000 habitants (hors agglomération parisienne)","Agglomération parisienne"], "paddingInner": 0, "paddingOuter": 0}, "axis": {"title": null, "offset": -314, "zindex": 1}},
          "yOffset": {"field": "sexe", "type": "nominal", "scale": {"type": "point", "domain": ["Hommes","Femmes"], "range": [4.1, 8.1], "padding": 0}},
          "x": {"field": "rr", "type": "quantitative", "scale": {"type": "log", "domain": [0.001836, 10.13], "nice": false}},
          "color": {"field": "sexe", "type": "nominal", "scale": {"domain": ["Hommes","Femmes"], "range": ["#17999d","#a8cc3f"]}}}},
        {"transform": [{"filter": "datum.s==='urb' && datum.type==='Significatif'"}], "mark": {"type": "point", "shape": "circle", "size": 60, "filled": true, "opacity": 1},
         "encoding": {"y": {"field": "cat", "type": "nominal", "scale": {"type": "band", "domain": ["Rurale","De 2 à 9 999 habitants","De 10 000 à 99 999 habitants","De 100 000 à 199 999 habitants","Plus de 200 000 habitants (hors agglomération parisienne)","Agglomération parisienne"], "paddingInner": 0, "paddingOuter": 0}, "axis": {"title": null, "offset": -314, "zindex": 1}},
          "yOffset": {"field": "sexe", "type": "nominal", "scale": {"type": "point", "domain": ["Hommes","Femmes"], "range": [4.1, 8.1], "padding": 0}},
          "x": {"field": "rr", "type": "quantitative", "scale": {"type": "log", "domain": [0.001836, 10.13], "nice": false}},
          "color": {"field": "sexe", "type": "nominal", "scale": {"domain": ["Hommes","Femmes"], "range": ["#17999d","#a8cc3f"]}}}},
        {"transform": [{"filter": "datum.s==='urb' && datum.type==='Non significatif'"}], "mark": {"type": "point", "shape": "circle", "size": 52, "filled": false, "fill": "#efedea", "strokeWidth": 1.5, "opacity": 1},
         "encoding": {"y": {"field": "cat", "type": "nominal", "scale": {"type": "band", "domain": ["Rurale","De 2 à 9 999 habitants","De 10 000 à 99 999 habitants","De 100 000 à 199 999 habitants","Plus de 200 000 habitants (hors agglomération parisienne)","Agglomération parisienne"], "paddingInner": 0, "paddingOuter": 0}, "axis": {"title": null, "offset": -314, "zindex": 1}},
          "yOffset": {"field": "sexe", "type": "nominal", "scale": {"type": "point", "domain": ["Hommes","Femmes"], "range": [4.1, 8.1], "padding": 0}},
          "x": {"field": "rr", "type": "quantitative", "scale": {"type": "log", "domain": [0.001836, 10.13], "nice": false}},
          "color": {"field": "sexe", "type": "nominal", "scale": {"domain": ["Hommes","Femmes"], "range": ["#17999d","#a8cc3f"]}}}}
       ]}
     ]}
    ]}
   ]}
  ]}
 ]}
]
}
